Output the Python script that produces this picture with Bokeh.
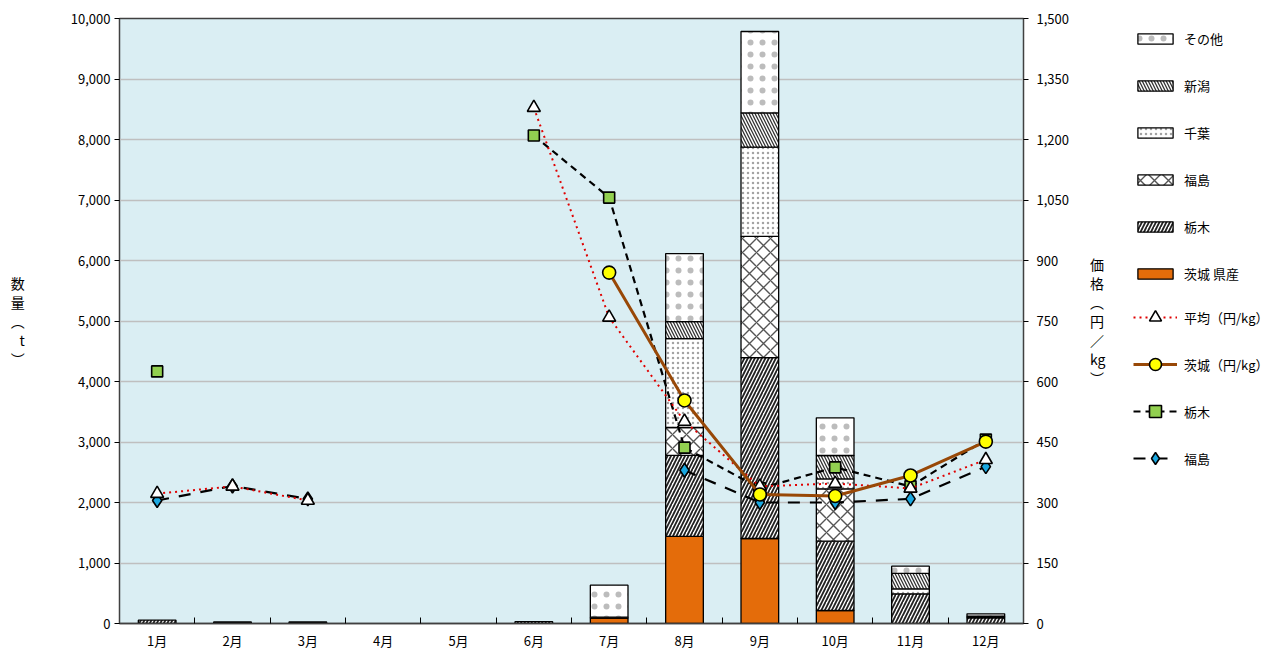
from bokeh.plotting import figure
from bokeh.layouts import row
from bokeh.models import (ColumnDataSource, Range1d, LinearAxis, FixedTicker,
                          NumeralTickFormatter, Legend, LegendItem, Label)
from bokeh.embed import file_html
from bokeh.resources import INLINE

nan = float("nan")

# ---------------- data ----------------
months = ["1月", "2月", "3月", "4月", "5月", "6月", "7月", "8月", "9月", "10月", "11月", "12月"]
month_num = [1, 2, 3, 4, 5, 6, 7, 8, 9, 10, 11, 12]

# quantities (t), stacked bottom -> top
qty_ibaraki   = [0, 0, 0, 0, 0, 0, 90, 1440, 1405, 215, 0, 0]
qty_tochigi   = [55, 25, 25, 0, 0, 30, 15, 1340, 2990, 1145, 490, 95]
qty_fukushima = [0, 0, 0, 0, 0, 0, 0, 460, 2005, 866, 0, 0]
qty_chiba     = [0, 0, 0, 0, 0, 0, 0, 1470, 1473, 164, 83, 25]
qty_niigata   = [0, 0, 0, 0, 0, 0, 0, 280, 567, 387, 257, 0]
qty_other     = [0, 0, 0, 0, 0, 0, 528, 1125, 1345, 623, 117, 40]

# prices (円/kg)
price_avg       = [322, 340, 305, nan, nan, 1279, 759, 501, 340, 347, 335, 406]
price_ibaraki   = [nan, nan, nan, nan, nan, nan, 870, 553, 320, 316, 367, 451]
price_tochigi   = [625, nan, nan, nan, nan, 1210, 1056, 436, 335, 387, 340, 456]
price_fukushima = [305, 341, 309, nan, nan, nan, nan, 380, 300, 300, 309, 389]

title_text = "【　日本なし類】の月別数量・価格(2022年)"

FONT = "Noto Sans CJK JP"

MAIN_W = 1133
TOTAL_W = 1278
H = 655

# ---------------- figure ----------------
p = figure(frame_width=904, frame_height=605,
           x_range=Range1d(0.5, 12.5), y_range=Range1d(0, 10000),
           output_backend="svg", toolbar_location=None,
           min_border_left=119, min_border_top=18, min_border_bottom=32,
           min_border_right=MAIN_W - 119 - 904,
           background_fill_color="#DAEEF3", border_fill_color="white",
           outline_line_color="#404040", outline_line_width=1.5)
p.extra_y_ranges = {"price": Range1d(0, 1500)}

p.xgrid.visible = False
p.ygrid.grid_line_color = "#BFBFBF"
p.ygrid.grid_line_width = 1.5

# x axis
xa = p.xaxis[0]
xa.ticker = FixedTicker(ticks=month_num, minor_ticks=[m + 0.5 for m in range(0, 13)])
xa.major_label_overrides = {m: months[m - 1] for m in month_num}
xa.major_tick_line_color = None
xa.major_tick_in = 0
xa.major_tick_out = 0
xa.minor_tick_in = 6
xa.minor_tick_out = 0
xa.minor_tick_line_color = "black"
xa.axis_line_color = "#404040"
xa.axis_line_width = 1.5
xa.major_label_standoff = 7
xa.major_label_text_font = FONT
xa.major_label_text_font_size = "13px"
xa.major_label_text_color = "black"

# left axis
ya = p.yaxis[0]
ya.ticker = FixedTicker(ticks=list(range(0, 10001, 1000)), minor_ticks=[])
ya.formatter = NumeralTickFormatter(format="0,0")
ya.major_tick_out = 5
ya.major_tick_in = 0
ya.major_label_standoff = 4
ya.major_label_text_font = FONT
ya.major_label_text_font_size = "13px"
ya.major_label_text_color = "black"
ya.axis_line_color = "#404040"
ya.axis_label = "数\n量\n︵\nt\n︶"
ya.axis_label_orientation = "horizontal"
ya.axis_label_text_font = FONT
ya.axis_label_text_font_size = "14px"
ya.axis_label_text_font_style = "normal"
ya.axis_label_text_color = "black"
ya.axis_label_text_line_height = 0.95
ya.axis_label_standoff = 43

# right axis
ra = LinearAxis(y_range_name="price",
                ticker=FixedTicker(ticks=list(range(0, 1501, 150)), minor_ticks=[]),
                formatter=NumeralTickFormatter(format="0,0"))
ra.major_tick_out = 5
ra.major_tick_in = 0
ra.major_label_standoff = 8
ra.major_label_text_font = FONT
ra.major_label_text_font_size = "13px"
ra.major_label_text_color = "black"
ra.axis_line_color = "#404040"
ra.axis_label = "価\n格\n︵\n円\n／\nkg\n︶"
ra.axis_label_orientation = "horizontal"
ra.axis_label_text_font = FONT
ra.axis_label_text_font_size = "14px"
ra.axis_label_text_font_style = "normal"
ra.axis_label_text_color = "black"
ra.axis_label_text_line_height = 0.95
ra.axis_label_standoff = 18
p.add_layout(ra, "right")

# ---------------- bar styles ----------------
bar_styles = {
    "茨城 県産": dict(fill_color="#E46C0A"),
    "栃木": dict(fill_color="white", hatch_pattern="right_diagonal_line",
               hatch_scale=7, hatch_weight=1.8, hatch_color="#222222"),
    "福島": dict(fill_color="white", hatch_pattern="diagonal_cross",
               hatch_scale=14, hatch_weight=1.4, hatch_color="#555555"),
    "千葉": dict(fill_color="white", hatch_pattern="dot",
               hatch_scale=5, hatch_color="#555555", hatch_alpha=0.55),
    "新潟": dict(fill_color="white", hatch_pattern="left_diagonal_line",
               hatch_scale=6, hatch_weight=1.3, hatch_color="#333333"),
    "その他": dict(fill_color="white", hatch_pattern="dot",
                hatch_scale=12, hatch_color="#222222", hatch_alpha=0.3),
}

layers = [
    ("茨城 県産", qty_ibaraki),
    ("栃木", qty_tochigi),
    ("福島", qty_fukushima),
    ("千葉", qty_chiba),
    ("新潟", qty_niigata),
    ("その他", qty_other),
]

cum = [0.0] * 12
for name, vals in layers:
    xs, bots, tops = [], [], []
    for i in range(12):
        if vals[i] > 0:
            xs.append(month_num[i])
            bots.append(cum[i])
            tops.append(cum[i] + vals[i])
        cum[i] += vals[i]
    src = ColumnDataSource(dict(x=xs, bottom=bots, top=tops))
    p.vbar(x="x", bottom="bottom", top="top", width=0.5, source=src,
           line_color="black", line_width=1.3, **bar_styles[name])

# ---------------- price lines ----------------
line_styles = {
    "福島": dict(color="black", width=2.2, dash="12 10", marker="diamond", size=14, fill="#1BA8E0"),
    "栃木": dict(color="black", width=2.2, dash="7 5", marker="square", size=11, fill="#92D050"),
    "平均": dict(color="#E00000", width=2, dash="2 4", marker="triangle", size=13, fill="white"),
    "茨城": dict(color="#984807", width=3, dash="solid", marker="circle", size=13, fill="#FFFF00"),
}
price_series = [("福島", price_fukushima), ("栃木", price_tochigi),
                ("平均", price_avg), ("茨城", price_ibaraki)]

def draw_price(fig, key, xs, ys, **extra):
    st = line_styles[key]
    ln = fig.line(xs, ys, line_color=st["color"], line_width=st["width"],
                  line_dash=st["dash"], **extra)
    mk = fig.scatter(xs, ys, marker=st["marker"], size=st["size"],
                     fill_color=st["fill"], line_color="black", line_width=1.6, **extra)
    return [ln, mk]

for key, vals in price_series:
    draw_price(p, key, month_num, vals, y_range_name="price")

# ---------------- title (cut at the top, as in the source) ----------------
p.add_layout(Label(x=-111, y=618, x_units="screen", y_units="screen",
                   text=title_text, text_font=FONT, text_font_size="19px",
                   text_baseline="alphabetic", text_color="black"))

# ---------------- legend panel ----------------
lf = figure(width=TOTAL_W - MAIN_W, height=H, x_range=Range1d(0, 1), y_range=Range1d(0, 1),
            x_axis_type=None, y_axis_type=None, output_backend="svg",
            toolbar_location=None, min_border=0, outline_line_color=None,
            background_fill_color="white", border_fill_color="white")
lf.grid.visible = False

# legend-only renderers (one undefined point each, so nothing is drawn in the panel)
leg_bar = {}
for name in ["その他", "新潟", "千葉", "福島", "栃木", "茨城 県産"]:
    leg_bar[name] = lf.vbar(x=[nan], top=[nan], width=0.5, line_color="black",
                            line_width=1.3, **bar_styles[name])
leg_line = {key: draw_price(lf, key, [nan], [nan]) for key in ["平均", "茨城", "栃木", "福島"]}

common = dict(glyph_width=44, label_standoff=7, label_height=20, padding=0, margin=0,
              border_line_color=None, background_fill_alpha=0,
              label_text_font=FONT, label_text_font_size="13px", label_text_color="black")

bar_items = [LegendItem(label=n, renderers=[leg_bar[n]])
             for n in ["その他", "新潟", "千葉", "福島", "栃木", "茨城 県産"]]
line_items = [
    LegendItem(label="平均（円/kg）", renderers=leg_line["平均"]),
    LegendItem(label="茨城（円/kg）", renderers=leg_line["茨城"]),
    LegendItem(label="栃木", renderers=leg_line["栃木"]),
    LegendItem(label="福島", renderers=leg_line["福島"]),
]
legend_bars = Legend(items=bar_items, location=(0, 340), glyph_height=13, spacing=27, **common)
legend_lines = Legend(items=line_items, location=(0, 150), glyph_height=30, spacing=17, **common)
lf.add_layout(legend_bars)
lf.add_layout(legend_lines)

layout = row(p, lf)
open("out.html", "w").write(file_html(layout, INLINE))
